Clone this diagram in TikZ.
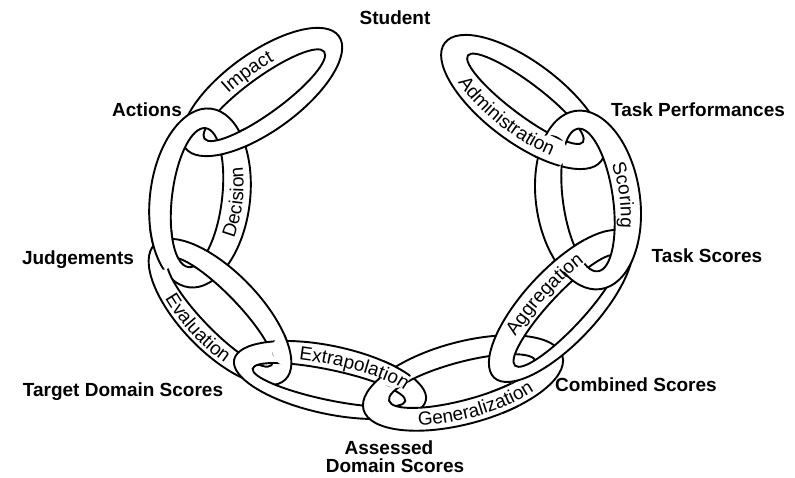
\documentclass[tikz,border=0pt]{standalone}
\usepackage{fontspec}
\setmainfont{Liberation Sans}
\usetikzlibrary{decorations.text}
\newcommand\bandfont{\fontsize{19pt}{22pt}\selectfont}
\tikzset{
  linkstyle/.style={fill=white, draw=black, line width=1.9pt, even odd rule},
  lab/.style={font=\bfseries\fontsize{19pt}{22pt}\selectfont, inner sep=0pt},
  bandtext/.style={decorate, decoration={text along path, text align=center, text={|\bandfont|#1}}},
}
% ring: cx, cy, rotation, a, b, inner offset, a', b'
\newcommand\ringlink[8]{\begin{scope}[shift={(#1,#2)},rotate=#3]
  \filldraw[linkstyle] (0,0) ellipse[x radius=#4pt,y radius=#5pt] (0,#6) ellipse[x radius=#7pt,y radius=#8pt];
\end{scope}}
% band text: cx, cy, rotation, start angle, end angle, rx, ry, text
\newcommand\bandlabel[8]{\begin{scope}[shift={(#1,#2)},rotate=#3]
  \path[bandtext={#8}] (#4:#6 and #7) arc[start angle=#4,end angle=#5,x radius=#6pt,y radius=#7pt];
\end{scope}}
\newcommand\RImpact{\ringlink{262}{386}{36}{95}{39}{-4}{74}{18}}
\newcommand\RDecision{\ringlink{200}{280}{83}{90}{50}{3}{70}{25}}
\newcommand\REvaluation{\ringlink{220}{166}{-46}{94}{40}{0}{74}{18}}
\newcommand\RExtrapolation{\ringlink{330}{98}{-12}{98}{34}{-5}{78}{15}}
\newcommand\RGeneralization{\ringlink{463}{95}{15}{103}{41}{2}{76}{19}}
\newcommand\RAggregation{\ringlink{561}{172}{47}{98}{37}{-7}{75}{17}}
\newcommand\RScoring{\ringlink{588}{278}{98}{90}{52}{0}{72}{25}}
\newcommand\RAdministration{\ringlink{523}{376}{-37}{98}{40}{4}{72}{16}}
\begin{document}
\begin{tikzpicture}[x=1pt,y=1pt]
  \useasboundingbox (0,0) rectangle (795,478);
  \fill[white] (0,0) rectangle (795,478);
  % chain links, interlocked by redrawing a clipped part of the earlier link
  \RImpact
  \RDecision
  \begin{scope}\clip (232,336) circle[radius=18pt]; \RImpact\end{scope}
  \REvaluation
  \begin{scope}\clip (160,230) circle[radius=22pt]; \RDecision\end{scope}
  \RExtrapolation
  \begin{scope}\clip (288,128) circle[radius=16pt]; \REvaluation\end{scope}
  \RGeneralization
  \begin{scope}\clip (395,106) circle[radius=16pt]; \RExtrapolation\end{scope}
  \RAggregation
  \begin{scope}\clip (505,80) circle[radius=16pt]; \RGeneralization\end{scope}
  \RAdministration
  \RScoring
  \begin{scope}\clip (568,226) circle[radius=20pt]; \RAggregation\end{scope}
  \begin{scope}\clip (550,326) circle[radius=17pt]; \RAdministration\end{scope}
  % texts on the links
  \bandlabel{262}{386}{36}{160}{20}{75.7}{19.7}{Impact}
  \bandlabel{200}{280}{83}{200}{340}{82.8}{42.8}{Decision}
  \bandlabel{220}{166}{-46}{197}{333}{89.8}{35.8}{Evaluation}
  \bandlabel{330}{98}{-12}{122}{-2}{79.2}{15.2}{Extrapolation}
  \bandlabel{463}{95}{15}{210}{345}{97.8}{35.8}{Generalization}
  \bandlabel{561}{172}{47}{165}{25}{77.7}{16.7}{Aggregation}
  \bandlabel{588}{278}{98}{-20}{-160}{69.7}{31.7}{Scoring}
  \bandlabel{523}{376}{-37}{195}{333}{90.8}{32.8}{Administration}
  % labels
  \node[lab, anchor=base] (student) at (395,453) {Student};
  \node[lab, anchor=base] (taskperf) at (698,361) {Task Performances};
  \node[lab, anchor=base] (taskscores) at (707,215) {Task Scores};
  \node[lab, anchor=base west] (combined) at (555,86) {Combined Scores};
  \node[lab, anchor=base] (assessed) at (389,23) {Assessed};
  \node[lab, anchor=base] (domain) at (395,5) {Domain Scores};
  \node[lab, anchor=base] (target) at (123,81) {Target Domain Scores};
  \node[lab, anchor=base] (judge) at (78,213) {Judgements};
  \node[lab, anchor=base] (actions) at (147,361) {Actions};
\end{tikzpicture}
\end{document}
